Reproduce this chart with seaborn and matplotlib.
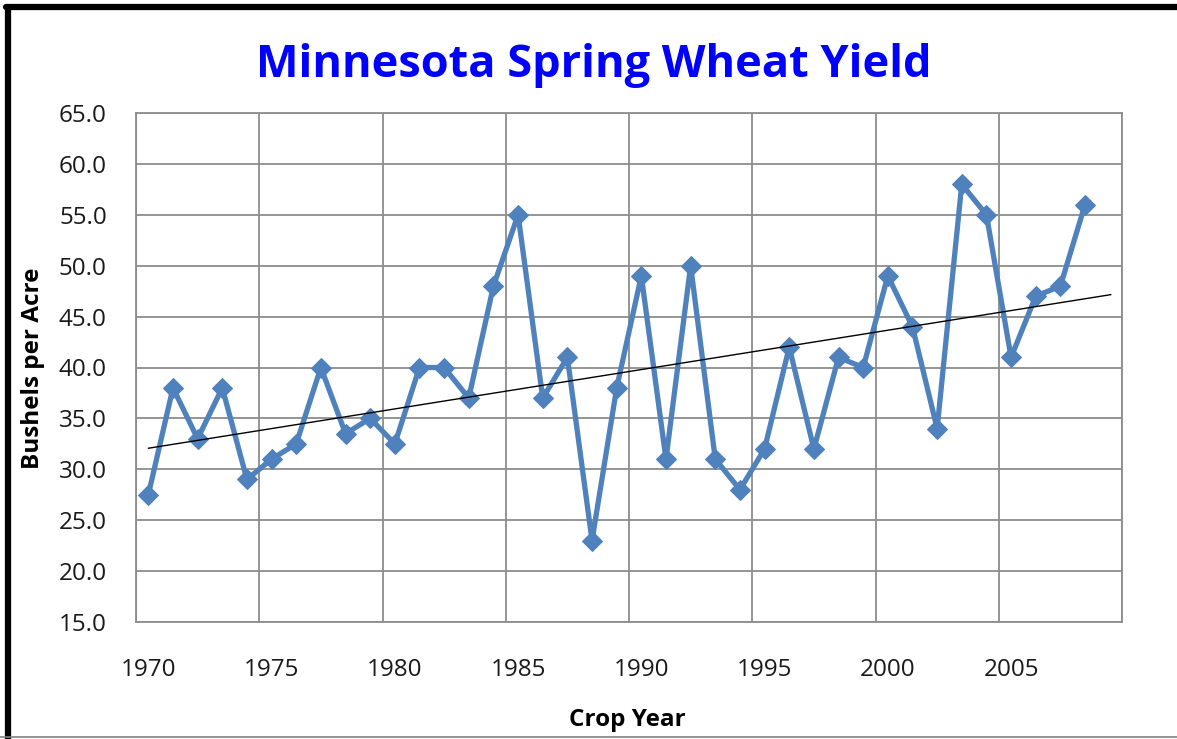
import numpy as np
import pandas as pd
import matplotlib
matplotlib.use("Agg")
import matplotlib.pyplot as plt
import seaborn as sns
from matplotlib.lines import Line2D

years = list(range(1970, 2009))
yields = [27.5, 38, 33, 38, 29, 31, 32.5, 40, 33.5, 35,
          32.5, 40, 40, 37, 48, 55, 37, 41, 23, 38,
          49, 31, 50, 31, 28, 32, 42, 32, 41, 40,
          49, 44, 34, 58, 55, 41, 47, 48, 56]
x_ticks = [1970, 1975, 1980, 1985, 1990, 1995, 2000, 2005]
y_ticks = [15, 20, 25, 30, 35, 40, 45, 50, 55, 60, 65]

title = "Minnesota Spring Wheat Yield"
x_label = "Crop Year"
y_label = "Bushels per Acre"

sns.set_style("white")
plt.rcParams['font.family'] = ['Open Sans', 'DejaVu Sans']

fig = plt.figure(figsize=(11.77, 7.39), dpi=100)
ax = fig.add_axes([136/1177, 1-622/739, (1122-136)/1177, (622-113)/739])

# Excel date axis: each year occupies a band; points sit in the band centre
band = 0.5
df = pd.DataFrame({"x": np.array(years) + band, "y": yields})

# trend line (least squares), extended one period forward like Excel
slope, intercept = np.polyfit(df["x"], df["y"], 1)
tx = np.array([df["x"].min(), df["x"].max() + 1.05])
trend = pd.DataFrame({"x": tx, "y": slope * tx + intercept})

blue = "#4F81BD"
grid_c = "#8C8C8C"

sns.lineplot(data=df, x="x", y="y", ax=ax, color=blue, linewidth=3.8,
             marker="D", markersize=10.5, markeredgecolor=blue,
             markerfacecolor=blue, zorder=3)
sns.lineplot(data=trend, x="x", y="y", ax=ax, color="black", linewidth=1.0,
             zorder=4)

ax.set_xlim(1970, 2010)
ax.set_ylim(15, 65)
ax.set_xticks(x_ticks + [2010])
ax.set_xticklabels([""] * (len(x_ticks) + 1))
ax.set_xticks([t + band for t in x_ticks], minor=True)
ax.set_xticklabels([str(t) for t in x_ticks], minor=True)
ax.set_yticks(y_ticks)
ax.set_yticklabels([f"{t:.1f}" for t in y_ticks])
ax.grid(True, which="major", color=grid_c, linewidth=1.3)
for s in ax.spines.values():
    s.set_color(grid_c)
    s.set_linewidth(1.3)
ax.tick_params(axis="both", which="major", direction="out", color=grid_c,
               width=1.3, length=7, labelsize=17.5, labelcolor="#1a1a1a")
ax.tick_params(axis="x", which="minor", length=0, pad=26, labelsize=17.5,
               labelcolor="#1a1a1a")
ax.tick_params(axis="y", pad=14)

ax.set_xlabel("")
ax.set_ylabel("")
fig.text(627/1177, 1-720/739, x_label, ha="center", va="center",
         fontsize=17.5, fontweight="bold", color="black")
fig.text(33/1177, 1-368/739, y_label, ha="center", va="center",
         rotation=90, fontsize=17.5, fontweight="bold", color="black")
fig.text(594/1177, 1-77/739, title, ha="center", va="baseline",
         fontsize=32.5, fontweight="bold", color="#0000FF")

# chart border
fig.add_artist(Line2D([8/1177, 8/1177], [0, 1-7/739], color="black",
                      linewidth=4.5, transform=fig.transFigure))
fig.add_artist(Line2D([6/1177, 1], [1-7/739, 1-7/739], color="black",
                      linewidth=4.5, transform=fig.transFigure))
fig.add_artist(Line2D([0, 1], [1-737/739, 1-737/739], color="#808080",
                      linewidth=1.2, transform=fig.transFigure))

fig.savefig("out.png", dpi=100)
